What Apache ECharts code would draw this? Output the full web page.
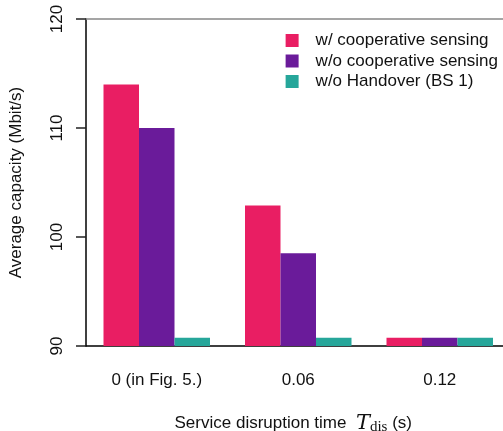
<!DOCTYPE html>
<html><head><meta charset="utf-8">
<script src="https://cdn.jsdelivr.net/npm/echarts@6/dist/echarts.min.js"></script>
<style>html,body{margin:0;padding:0;background:#fff}#c{width:503px;height:431px}</style>
</head><body><div id="c"></div>
<script>
const categories = ['0 (in Fig. 5.)', '0.06', '0.12'];
const seriesNames = ['w/ cooperative sensing', 'w/o cooperative sensing', 'w/o Handover (BS 1)'];
const withSensing = [114, 102.9, 90.75];
const withoutSensing = [110, 98.5, 90.75];
const withoutHandover = [90.75, 90.75, 90.75];
const yTicks = [90, 100, 110, 120];
const colors = ['#E91E63', '#6A1B9A', '#26A69A'];
const FONT = 'Liberation Sans, Arial, sans-serif';

const chart = echarts.init(document.getElementById('c'), null, {renderer: 'canvas'});
const dataSets = [withSensing, withoutSensing, withoutHandover];
chart.setOption({
  animation: false,
  textStyle: {fontFamily: FONT},
  legend: {
    right: 0, top: 27, orient: 'vertical', itemWidth: 13, itemHeight: 13, itemGap: 3.5,
    icon: 'rect', textStyle: {fontSize: 17, color: '#111', fontFamily: FONT, padding: [0, 0, 0, 12]},
    data: seriesNames
  },
  grid: {left: 86, top: 19, width: 424.5, height: 327, outerBoundsMode: 'none', containLabel: false},
  xAxis: [{
    type: 'category', data: categories,
    axisLine: {lineStyle: {color: '#000', width: 1.5}},
    axisTick: {show: false},
    axisLabel: {fontSize: 17, color: '#111', margin: 26, fontFamily: FONT},
    name: 'Service disruption time  {t|T}{s|dis} (s)',
    nameLocation: 'middle', nameGap: 66,
    nameTextStyle: {
      fontSize: 17, color: '#111', fontFamily: FONT, padding: [0, 10, 0, 0],
      rich: {
        t: {fontSize: 21, fontStyle: 'italic', fontFamily: 'DejaVu Serif, Liberation Serif, serif', color: '#111'},
        s: {fontSize: 15, fontFamily: 'Liberation Serif, serif', color: '#111', padding: [8, 0, 0, 0]}
      }
    }
  }, {
    type: 'category', position: 'top', data: categories,
    axisLine: {lineStyle: {color: '#888', width: 1.5}},
    axisTick: {show: false}, axisLabel: {show: false}
  }],
  yAxis: {
    type: 'value', min: 90, max: 120, interval: 10, data: yTicks,
    axisLine: {show: true, lineStyle: {color: '#000', width: 1.5}},
    axisTick: {show: true, length: 10, lineStyle: {color: '#222', width: 1.5}},
    splitLine: {show: false},
    axisLabel: {fontSize: 17, color: '#111', rotate: 90, margin: 20, fontFamily: FONT},
    name: 'Average capacity (Mbit/s)', nameLocation: 'middle', nameGap: 61,
    nameTextStyle: {fontSize: 17, color: '#111', fontFamily: FONT}
  },
  series: dataSets.map((d, i) => ({
    name: seriesNames[i], type: 'bar', data: d, barWidth: 35.5, barGap: '0%',
    itemStyle: {color: colors[i]}
  }))
});
</script></body></html>
